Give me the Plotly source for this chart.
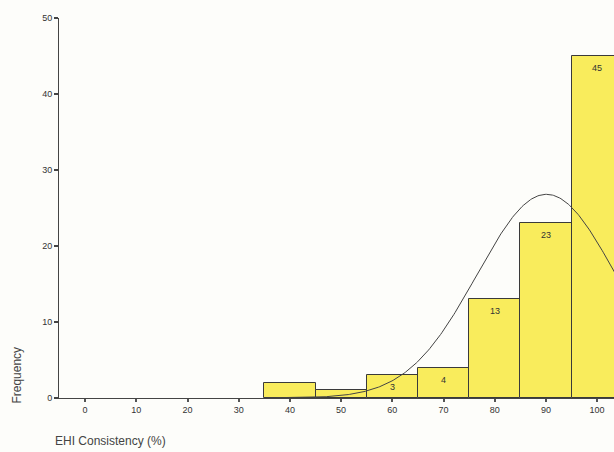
import numpy as np
import plotly.graph_objects as go

# Histogram data (bin centres, counts)
bin_centers = [40, 50, 60, 70, 80, 90, 100]
counts = [2, 1, 3, 4, 13, 23, 45]
bin_width = 10
x_ticks = [0, 10, 20, 30, 40, 50, 60, 70, 80, 90, 100]
y_ticks = [0, 10, 20, 30, 40, 50]

# Normal curve fitted to the binned data
c = np.array(bin_centers, dtype=float)
n_arr = np.array(counts, dtype=float)
N = n_arr.sum()
mean = (c * n_arr).sum() / N
sd = np.sqrt(((c - mean) ** 2 * n_arr).sum() / N)
xc = np.linspace(35, 106, 300)
yc = N * bin_width / (sd * np.sqrt(2 * np.pi)) * np.exp(-0.5 * ((xc - mean) / sd) ** 2)

BG = "#fdfdfa"
fig = go.Figure()
fig.add_trace(go.Bar(
    x=bin_centers, y=counts, width=bin_width,
    marker=dict(color="#f9ec5c", line=dict(color="#3a3a3a", width=1)),
    hoverinfo="skip",
))
fig.add_trace(go.Scatter(
    x=xc, y=yc, mode="lines",
    line=dict(color="#444444", width=1),
    hoverinfo="skip",
))

for xv, yv in zip(bin_centers, counts):
    if yv >= 3:
        fig.add_annotation(
            x=xv, y=yv, text=str(yv), showarrow=False, yshift=-12,
            font=dict(family="Arial", size=9, color="#333333"),
        )

fig.add_annotation(
    xref="paper", yref="paper", x=-0.075, y=0.06, text="Frequency",
    textangle=-90, showarrow=False, xanchor="center", yanchor="middle",
    font=dict(family="Arial", size=12, color="#444444"),
)
fig.add_annotation(
    xref="paper", yref="paper", x=-0.01, y=-0.113, text="EHI Consistency (%)",
    showarrow=False, xanchor="left", yanchor="middle",
    font=dict(family="Arial", size=12, color="#444444"),
)

fig.update_layout(
    width=614, height=452,
    margin=dict(l=59, r=0, t=18, b=54),
    paper_bgcolor=BG, plot_bgcolor=BG,
    showlegend=False,
    bargap=0,
    xaxis=dict(
        range=[-5.1, 103.3], tickvals=x_ticks, ticktext=[str(v) for v in x_ticks],
        showgrid=False, zeroline=False, showline=True, linecolor="#444444", linewidth=1,
        ticks="outside", ticklen=3, tickwidth=2, tickcolor="#555555",
        tickfont=dict(family="Arial", size=9, color="#333333"),
    ),
    yaxis=dict(
        range=[0, 50], tickvals=y_ticks, ticktext=[str(v) for v in y_ticks],
        showgrid=False, zeroline=False, showline=True, linecolor="#444444", linewidth=1,
        ticks="outside", ticklen=4, tickwidth=2, tickcolor="#444444",
        tickfont=dict(family="Arial", size=9, color="#333333"),
    ),
)

fig.write_html(
    "out.html",
    config={"displayModeBar": False},
    post_script="document.body.style.margin='0';document.body.style.overflow='hidden';",
)
